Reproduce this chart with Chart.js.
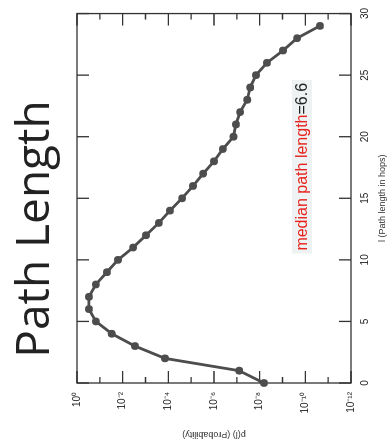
<!DOCTYPE html>
<html><head><meta charset="utf-8">
<script src="https://cdn.jsdelivr.net/npm/chart.js@4.4.0/dist/chart.umd.min.js"></script>
<style>
html,body{margin:0;padding:0;background:#fff;overflow:hidden;width:392px;height:446px}
#rot{position:absolute;left:0;top:0;width:446px;height:392px;transform-origin:0 0;transform:rotate(-90deg) translate(-446px,0);}
#title{position:absolute;left:0;top:8px;width:434px;text-align:center;font:46px/46px "Open Sans",Lato,sans-serif;color:#222;white-space:nowrap}
#c{position:absolute;left:0;top:0}
</style>
</head><body>
<div id="rot">
  <canvas id="c" width="446" height="392"></canvas>
  <div id="title">Path Length</div>
</div>
<script>
// ---- data ----
const pathLengths = [0,1,2,3,4,5,6,7,8,9,10,11,12,13,14,15,16,17,18,19,20,21,22,23,24,25,26,27,28,29];
const probabilities = [6.5e-9,7.9e-8,1.4e-4,2.9e-3,3.0e-2,0.15,0.30,0.30,0.15,0.049,0.016,3.5e-3,9.5e-4,2.6e-4,8.5e-5,2.5e-5,8.3e-6,3.0e-6,1.0e-6,4.1e-7,1.4e-7,1.1e-7,7.2e-8,3.5e-8,2.6e-8,1.45e-8,4.8e-9,9.5e-10,2.3e-10,2.3e-11];
const xTickValues = [0,5,10,15,20,25,30];
const yLabelExponents = [0,-2,-4,-6,-8,-10,-12];
const yDecadeExponents = [0,-1,-2,-3,-4,-5,-6,-7,-8,-9,-10,-11,-12];
const xAxisTitle = 'l (Path length in hops)';
const yAxisTitle = 'p(l) (Probability)';
const annotRed = 'median path length';
const annotBlack = '=6.6';
const annotX = 10.75;
const annotY = 8.5e-11;

const sup = {'0':'⁰','1':'¹','2':'²','3':'³','4':'⁴','5':'⁵','6':'⁶','7':'⁷','8':'⁸','9':'⁹','-':'⁻'};
const supStr = n => String(n).split('').map(ch => sup[ch]).join('');

const framePlugin = {
  id: 'frame',
  beforeDatasetsDraw(chart) {
    const {ctx, chartArea: a, scales: {x, y}} = chart;
    ctx.save();
    ctx.font = '16px "Liberation Sans", Arial, sans-serif';
    const w = ctx.measureText(annotRed + annotBlack).width;
    const ax = x.getPixelForValue(annotX), ay = y.getPixelForValue(annotY);
    ctx.fillStyle = 'rgba(236,241,241,0.9)';
    ctx.fillRect(ax - 3, ay - 15, w + 6, 20);
    ctx.strokeStyle = '#333';
    ctx.lineWidth = 1.3;
    ctx.strokeRect(a.left, a.top, a.right - a.left, a.bottom - a.top);
    ctx.beginPath();
    xTickValues.forEach(v => {
      const px = x.getPixelForValue(v);
      ctx.moveTo(px, a.bottom); ctx.lineTo(px, a.bottom - 12);
      ctx.moveTo(px, a.top); ctx.lineTo(px, a.top + 12);
    });
    yDecadeExponents.forEach(e => {
      const py = y.getPixelForValue(Math.pow(10, e));
      const L = (e % 2 === 0) ? 12 : 6;
      ctx.moveTo(a.left, py); ctx.lineTo(a.left + L, py);
      ctx.moveTo(a.right, py); ctx.lineTo(a.right - L, py);
    });
    ctx.stroke();
    ctx.restore();
  },
  afterDatasetsDraw(chart) {
    const {ctx, scales: {x, y}} = chart;
    ctx.save();
    ctx.font = '16px "Liberation Sans", Arial, sans-serif';
    ctx.textBaseline = 'alphabetic';
    ctx.textAlign = 'left';
    const ax = x.getPixelForValue(annotX), ay = y.getPixelForValue(annotY);
    ctx.fillStyle = '#e8231f';
    ctx.fillText(annotRed, ax, ay);
    const w = ctx.measureText(annotRed).width;
    ctx.fillStyle = '#222';
    ctx.fillText(annotBlack, ax + w, ay);
    ctx.restore();
  }
};

new Chart(document.getElementById('c'), {
  type: 'line',
  data: {
    datasets: [{
      data: pathLengths.map((v, i) => ({x: v, y: probabilities[i]})),
      borderColor: '#4d4d4d',
      backgroundColor: '#4d4d4d',
      borderWidth: 2.8,
      pointRadius: 3.9,
      pointBorderWidth: 0,
      tension: 0,
      clip: false
    }]
  },
  options: {
    responsive: false,
    devicePixelRatio: 1,
    animation: false,
    layout: {padding: {top: 77, right: 12, left: 0, bottom: 0}},
    plugins: {legend: {display: false}, tooltip: {enabled: false}, title: {display: false}},
    scales: {
      x: {
        type: 'linear', min: 0, max: 30,
        grid: {display: false, drawTicks: false},
        border: {display: false},
        afterBuildTicks: s => { s.ticks = xTickValues.map(v => ({value: v})); },
        afterFit: s => { s.height = 41; },
        ticks: {padding: 8, color: '#222', maxRotation: 0, autoSkip: false,
                font: {family: '"Liberation Sans", Arial, sans-serif', size: 10}},
        title: {display: true, text: xAxisTitle, color: '#333', padding: {top: 0, bottom: 4},
                font: {family: '"Liberation Sans", Arial, sans-serif', size: 9}}
      },
      y: {
        type: 'logarithmic', min: 1e-12, max: 1,
        grid: {display: false, drawTicks: false},
        border: {display: false},
        afterBuildTicks: s => { s.ticks = yLabelExponents.map(e => ({value: Math.pow(10, e)})); },
        afterFit: s => { s.width = 63; },
        ticks: {padding: 9, color: '#222', autoSkip: false,
                font: {family: '"Liberation Sans", Arial, sans-serif', size: 10},
                callback: v => '10' + supStr(Math.round(Math.log10(v)))},
        title: {display: true, text: yAxisTitle, color: '#333', padding: {top: 6, bottom: 0},
                font: {family: '"Liberation Sans", Arial, sans-serif', size: 9}}
      }
    }
  },
  plugins: [framePlugin]
});
</script>
</body></html>
